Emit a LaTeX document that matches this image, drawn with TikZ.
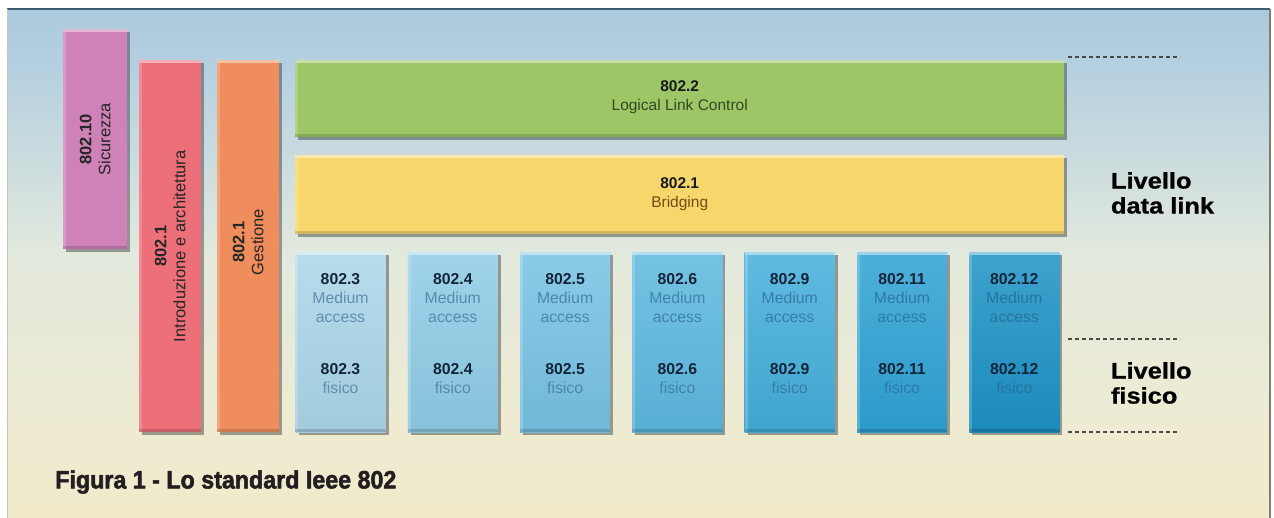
\documentclass[tikz,border=0pt]{standalone}
\usepackage{fontspec}
\setmainfont{Liberation Sans}
\newfontfamily\heavyfont[BoldFeatures={FakeBold=2.2}]{Liberation Sans}
\newfontfamily\semiheavyfont[BoldFeatures={FakeBold=0.8}]{Liberation Sans}
\usetikzlibrary{shadows}
\definecolor{bgA}{HTML}{EEE5B4}
\definecolor{bgB}{HTML}{F0EBCF}
\definecolor{bgC}{HTML}{E4EADD}
\definecolor{bgD}{HTML}{B3CFE0}
\definecolor{bgE}{HTML}{8AB4D0}
\definecolor{frametop}{HTML}{3D5D75}
\definecolor{frameright}{HTML}{7F7E6C}
\definecolor{frameleft}{HTML}{C9C7A8}
\definecolor{pinkc}{HTML}{CF82B8}
\definecolor{redc}{HTML}{EC6F7A}
\definecolor{orangec}{HTML}{EF8E5C}
\definecolor{greenc}{HTML}{9DC766}
\definecolor{yellowc}{HTML}{F7D66C}
\definecolor{greentext}{HTML}{2F4A1E}
\definecolor{yellowtext}{HTML}{6E4E12}
\definecolor{numc}{HTML}{14253A}
\definecolor{wordc}{HTML}{2F5F88}
\definecolor{bl1}{HTML}{AAD6E9}
\definecolor{bl2}{HTML}{8ECCE6}
\definecolor{bl3}{HTML}{76C2E3}
\definecolor{bl4}{HTML}{5CB8DF}
\definecolor{bl5}{HTML}{44AEDB}
\definecolor{bl6}{HTML}{2EA2D4}
\definecolor{bl7}{HTML}{1C92C5}
\definecolor{capc}{HTML}{231F20}
\definecolor{dashc}{HTML}{4A4A4A}
\pgfdeclareverticalshading{bgshade}{100bp}{color(0bp)=(bgA); color(30bp)=(bgB); color(50bp)=(bgC); color(70bp)=(bgD); color(100bp)=(bgE)}
\tikzset{
  panel/.style={rectangle, inner sep=0pt, anchor=north west, draw=none,
    drop shadow={shadow xshift=3pt, shadow yshift=-3pt, opacity=0.45, fill=black!80}},
  rottext/.style={rotate=90, align=center, font=\fontsize{16.5}{19}\selectfont},
  bartext/.style={align=center, font=\fontsize{15.5}{19}\selectfont},
  bluetext/.style={align=center, font=\fontsize{15.8}{19}\selectfont},
  sidelabel/.style={anchor=west, align=left, font=\semiheavyfont\bfseries\fontsize{22.5}{25}\selectfont, xscale=1.13},
  dashline/.style={draw=dashc, line width=1.3pt, dash pattern=on 4pt off 3pt}
}
\begin{document}
\begin{tikzpicture}[x=1pt,y=-1pt]
\useasboundingbox (0,0) rectangle (1274,518);
\fill[white] (0,0) rectangle (1274,518);
\shade[shading=bgshade] (7,9) rectangle (1270,518);
\draw[frametop, line width=2pt] (7,9) -- (1270,9);
\draw[frameright, line width=2pt] (1270,9) -- (1270,518);
\draw[frameleft, line width=1pt] (7.5,9) -- (7.5,518);

% vertical panels
\node[panel, fill=pinkc, minimum width=64, minimum height=220] (p10) at (63,29) {};
\node[panel, fill=redc, minimum width=62, minimum height=372] (p1a) at (139,60) {};
\node[panel, fill=orangec, minimum width=62, minimum height=372] (p1g) at (217,60) {};
% horizontal bars
\node[panel, fill=greenc, minimum width=769, minimum height=77] (llc) at (295,60) {};
\node[panel, fill=yellowc, minimum width=769, minimum height=79] (brg) at (295,155) {};

% blue boxes
\foreach \i/\n/\c in {0/3/bl1, 1/4/bl2, 2/5/bl3, 3/6/bl4, 4/9/bl5, 5/11/bl6, 6/12/bl7} {
  \node[panel, anchor=north, top color=\c!85!white, bottom color=\c!95!black,
        minimum width=90, minimum height=180] (m\n) at (340.5+112.3*\i, 252) {};
  \node[bluetext, text=\c!40!wordc] (ma\n) at (340.5+112.3*\i, 298.5) {\textcolor{numc}{\textbf{802.\n}}\\Medium\\access};
  \node[bluetext, text=\c!40!wordc] (mf\n) at (340.5+112.3*\i, 379) {\textcolor{numc}{\textbf{802.\n}}\\fisico};
}

% highlights and bottom shade
\foreach \n in {p10, p1a, p1g, llc, brg, m3, m4, m5, m6, m9, m11, m12} {
  \fill[white, opacity=0.45] (\n.north west) rectangle ([yshift=-3.5pt]\n.north east);
  \fill[white, opacity=0.2] ([yshift=-3.5pt]\n.north west) rectangle ([xshift=3pt]\n.south west);
  \fill[black, opacity=0.15] ([yshift=3pt]\n.south west) rectangle (\n.south east);
}

% texts
\node[rottext, text=black!85] (t10) at (p10.center) {\textbf{802.10}\\Sicurezza};
\node[rottext, text=black!85] (t1a) at (p1a.center) {\textbf{802.1}\\Introduzione e architettura};
\node[rottext, text=black!85] (t1g) at ([yshift=4pt]p1g.center) {\textbf{802.1}\\Gestione};
\node[bartext, text=greentext] (tllc) at ([yshift=1.5pt]llc.center) {\textcolor{black!90}{\textbf{802.2}}\\Logical Link Control};
\node[bartext, text=yellowtext] (tbrg) at ([yshift=1pt]brg.center) {\textcolor{black!90}{\textbf{802.1}}\\Bridging};

% side labels
\node[sidelabel] (ldl) at (1107,193) {Livello\\data link};
\node[sidelabel] (lfi) at (1107,383) {Livello\\fisico};

% dashed lines
\coordinate (d1a) at (1068,57); \coordinate (d1b) at (1180,57);
\coordinate (d2a) at (1068,339); \coordinate (d2b) at (1180,339);
\coordinate (d3a) at (1068,432); \coordinate (d3b) at (1180,432);
\draw[dashline] (d1a) -- (d1b);
\draw[dashline] (d2a) -- (d2b);
\draw[dashline] (d3a) -- (d3b);

% caption
\node[anchor=west, text=capc, font=\heavyfont\bfseries\fontsize{25}{30}\selectfont, xscale=0.93] (cap) at (52,482) {Figura 1 - Lo standard Ieee 802};
\end{tikzpicture}
\end{document}
